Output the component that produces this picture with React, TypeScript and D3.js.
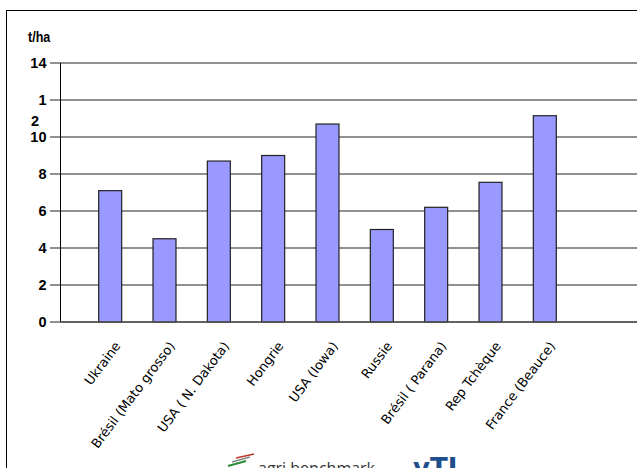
import React from "react";
import * as d3 from "d3";

const categories = [
  "Ukraine",
  "Brésil (Mato grosso)",
  "USA ( N. Dakota)",
  "Hongrie",
  "USA (Iowa)",
  "Russie",
  "Brésil ( Parana)",
  "Rep Tchèque",
  "France (Beauce)",
];
const values = [7.1, 4.5, 8.7, 9.0, 10.7, 5.0, 6.2, 7.55, 11.15];
const yTicks = [0, 2, 4, 6, 8, 10, 12, 14];
const yTickLabels = ["0", "2", "4", "6", "8", "10", "1\n2", "14"];
const unitLabel = "t/ha";

const W = 637;
const H = 468;

export default function App() {
  const x = d3
    .scaleBand<string>()
    .domain(categories)
    .range([60, 595])
    .paddingInner(0.577)
    .paddingOuter(0.712);
  const y = d3.scaleLinear().domain([0, 14]).range([322, 63]);

  const axisFont = "'Liberation Sans', Arial, sans-serif";
  const catFont = "'DejaVu Sans', Verdana, sans-serif";

  return (
    <svg
      width={W}
      height={H}
      viewBox={`0 0 ${W} ${H}`}
      style={{ position: "absolute", left: 0, top: 0, background: "#fff" }}
    >
      <rect x={0} y={0} width={W} height={H} fill="#fff" />
      {/* frame */}
      <line x1={6.5} y1={10} x2={6.5} y2={H} stroke="#000" strokeWidth={1} />
      <line x1={6} y1={10.5} x2={W} y2={10.5} stroke="#000" strokeWidth={1} />

      {/* unit label */}
      <text
        x={28}
        y={42}
        fontFamily={axisFont}
        fontWeight="bold"
        fontSize={14}
        fill="#000"
        transform="translate(28 0) scale(0.9 1) translate(-28 0)"
      >
        {unitLabel}
      </text>

      {/* gridlines + ticks */}
      {yTicks.map((t, i) => (
        <g key={t}>
          <line x1={50} x2={W} y1={y(t)} y2={y(t)} stroke="#222" strokeWidth={1.2} />
          {yTickLabels[i].includes("\n") ? (
            <text fontFamily={axisFont} fontWeight="bold" fontSize={14.5} fill="#000">
              <tspan x={46.5} y={y(t) + 5} textAnchor="end">
                {yTickLabels[i].split("\n")[0]}
              </tspan>
              <tspan x={31} y={y(t) + 25.5} textAnchor="start">
                {yTickLabels[i].split("\n")[1]}
              </tspan>
            </text>
          ) : (
            <text
              x={46.5}
              y={y(t) + 5}
              textAnchor="end"
              fontFamily={axisFont}
              fontWeight="bold"
              fontSize={14.5}
              fill="#000"
            >
              {yTickLabels[i]}
            </text>
          )}
        </g>
      ))}

      {/* y axis */}
      <line x1={60.5} x2={60.5} y1={y(14)} y2={y(0)} stroke="#000" strokeWidth={1} />

      {/* bars */}
      {categories.map((c, i) => (
        <rect
          key={c}
          x={x(c)!}
          y={y(values[i])}
          width={x.bandwidth()}
          height={y(0) - y(values[i])}
          fill="#9999FF"
          stroke="#222"
          strokeWidth={1.2}
        />
      ))}

      {/* baseline */}
      <line x1={60} x2={W} y1={y(0)} y2={y(0)} stroke="#555" strokeWidth={1.5} />

      {/* category labels */}
      {categories.map((c) => {
        const cx = x(c)! + x.bandwidth() / 2 + 11;
        const cy = 346;
        return (
          <text
            key={c}
            x={0}
            y={0}
            transform={`translate(${cx} ${cy}) rotate(-53)`}
            textAnchor="end"
            fontFamily={catFont}
            fontSize={13}
            fill="#000"
          >
            {c}
          </text>
        );
      })}

      {/* logos at bottom (cropped) */}
      <g>
        <path d="M228 466 L246 461" stroke="#2e8b3a" strokeWidth={2} />
        <path d="M232 462 L250 457" stroke="#888" strokeWidth={1.5} />
        <path d="M236 458 L254 454" stroke="#c0392b" strokeWidth={1.5} />
        <text x={258} y={474} fontFamily="'Open Sans', sans-serif" fontSize={16} fill="#333">
          agri benchmark
        </text>
        <text x={413} y={477} fontFamily="'DejaVu Sans', sans-serif" fontWeight="bold" fontSize={26} fill="#1f4e8c">
          vTI
        </text>
      </g>
    </svg>
  );
}
